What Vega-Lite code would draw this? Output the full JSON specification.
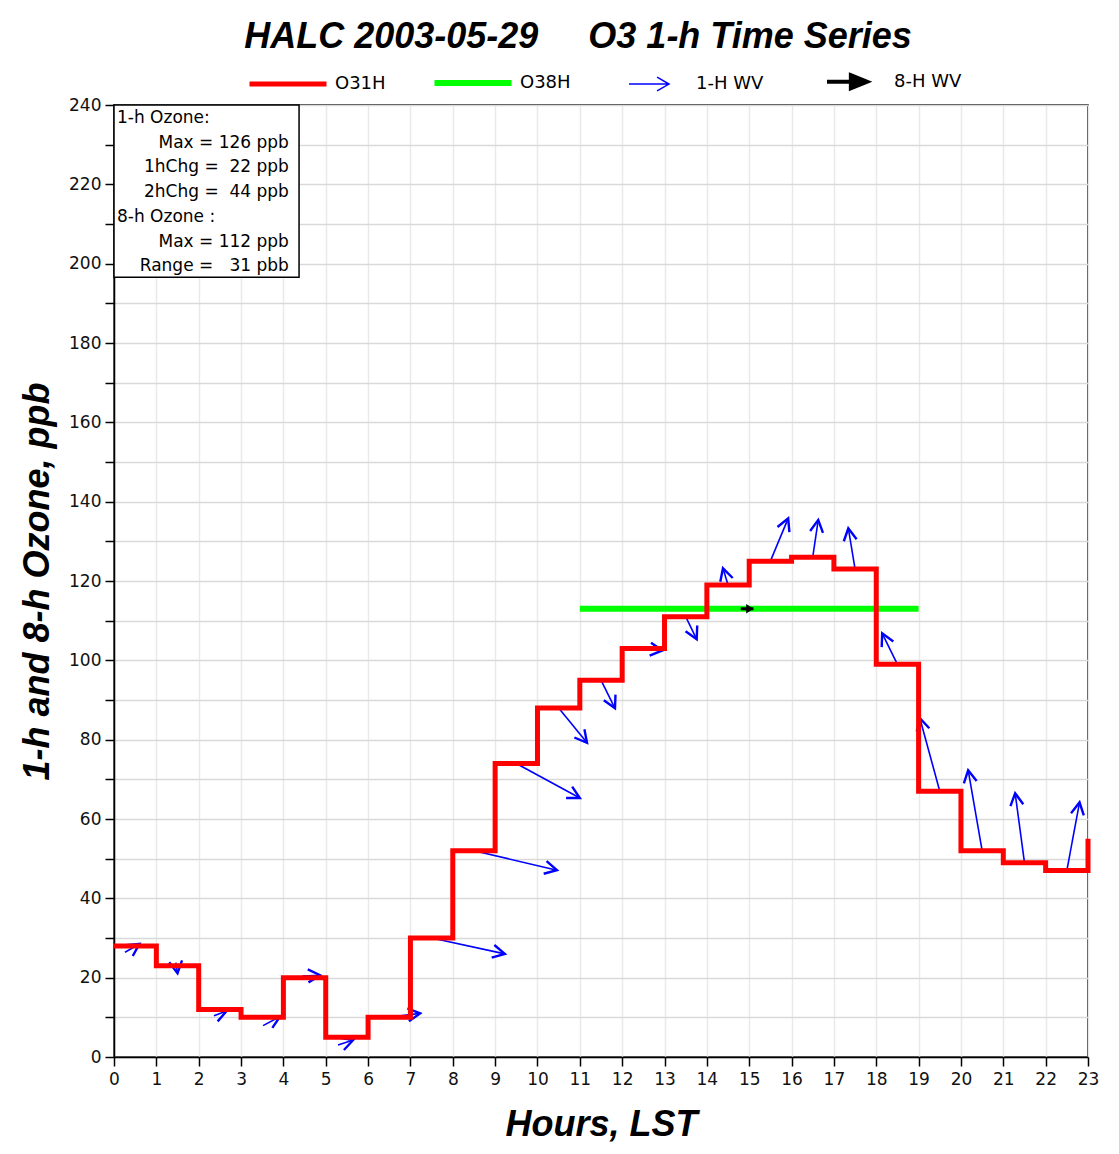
{
  "$schema": "https://vega.github.io/schema/vega-lite/v6.json",
  "width": 974,
  "height": 952,
  "autosize": "none",
  "padding": {"left": 114, "top": 105, "right": 31, "bottom": 97},
  "background": "white",
  "title": {
    "text": "HALC 2003-05-29\u00a0\u00a0\u00a0\u00a0\u00a0O3 1-h Time Series",
    "font": "Liberation Sans",
    "fontSize": 36,
    "fontStyle": "italic",
    "fontWeight": "bold",
    "color": "black",
    "anchor": "middle",
    "dx": -23,
    "offset": 17
  },
  "config": {
    "view": {"stroke": "black", "strokeWidth": 1.5},
    "axis": {
      "domainColor": "black",
      "domainWidth": 1.5,
      "tickColor": "black",
      "tickWidth": 1.5,
      "tickSize": 9,
      "labelFont": "DejaVu Sans",
      "labelFontSize": 17,
      "labelColor": "#111",
      "labelOverlap": false,
      "labelFlush": false,
      "titleFont": "Liberation Sans",
      "titleFontSize": 36,
      "titleFontWeight": "bold",
      "titleFontStyle": "italic",
      "titleColor": "black",
      "gridWidth": 1.5
    }
  },
  "datasets": {
    "o3": [
      {"hour": 0, "ppb": 28, "series": "O31H"},
      {"hour": 1, "ppb": 23, "series": "O31H"},
      {"hour": 2, "ppb": 12, "series": "O31H"},
      {"hour": 3, "ppb": 10, "series": "O31H"},
      {"hour": 4, "ppb": 20, "series": "O31H"},
      {"hour": 5, "ppb": 5, "series": "O31H"},
      {"hour": 6, "ppb": 10, "series": "O31H"},
      {"hour": 7, "ppb": 30, "series": "O31H"},
      {"hour": 8, "ppb": 52, "series": "O31H"},
      {"hour": 9, "ppb": 74, "series": "O31H"},
      {"hour": 10, "ppb": 88, "series": "O31H"},
      {"hour": 11, "ppb": 95, "series": "O31H"},
      {"hour": 12, "ppb": 103, "series": "O31H"},
      {"hour": 13, "ppb": 111, "series": "O31H"},
      {"hour": 14, "ppb": 119, "series": "O31H"},
      {"hour": 15, "ppb": 125, "series": "O31H"},
      {"hour": 16, "ppb": 126, "series": "O31H"},
      {"hour": 17, "ppb": 123, "series": "O31H"},
      {"hour": 18, "ppb": 99, "series": "O31H"},
      {"hour": 19, "ppb": 67, "series": "O31H"},
      {"hour": 20, "ppb": 52, "series": "O31H"},
      {"hour": 21, "ppb": 49, "series": "O31H"},
      {"hour": 22, "ppb": 47, "series": "O31H"},
      {"hour": 23, "ppb": 55, "series": "O31H"}
    ],
    "o8": [
      {"hour": 11, "ppb": 113, "series": "O38H"},
      {"hour": 19, "ppb": 113, "series": "O38H"}
    ],
    "wind1h": [
      {"hour": 0.26, "ppb": 26.4, "hour2": 0.60, "ppb2": 28.5, "dir": 57},
      {"hour": 1.46, "ppb": 23.8, "hour2": 1.50, "ppb2": 21.1, "dir": 171},
      {"hour": 2.36, "ppb": 10.4, "hour2": 2.66, "ppb2": 11.6, "dir": 69},
      {"hour": 3.52, "ppb": 7.9, "hour2": 3.92, "ppb2": 10.2, "dir": 62},
      {"hour": 4.45, "ppb": 20.4, "hour2": 4.87, "ppb2": 20.6, "dir": 87},
      {"hour": 5.29, "ppb": 3.0, "hour2": 5.65, "ppb2": 4.3, "dir": 71},
      {"hour": 6.5, "ppb": 10.0, "hour2": 7.23, "ppb2": 11.0, "dir": 83},
      {"hour": 7.5, "ppb": 30.0, "hour2": 9.23, "ppb2": 26.0, "dir": 102},
      {"hour": 8.5, "ppb": 52.0, "hour2": 10.46, "ppb2": 47.1, "dir": 103},
      {"hour": 9.5, "ppb": 74.0, "hour2": 11.0, "ppb2": 65.3, "dir": 118},
      {"hour": 10.5, "ppb": 88.0, "hour2": 11.17, "ppb2": 79.2, "dir": 141},
      {"hour": 11.5, "ppb": 95.0, "hour2": 11.83, "ppb2": 87.9, "dir": 154},
      {"hour": 12.5, "ppb": 103.0, "hour2": 12.95, "ppb2": 102.5, "dir": 96},
      {"hour": 13.5, "ppb": 111.0, "hour2": 13.76, "ppb2": 105.3, "dir": 154},
      {"hour": 14.5, "ppb": 119.0, "hour2": 14.38, "ppb2": 123.2, "dir": 343},
      {"hour": 15.5, "ppb": 125.0, "hour2": 15.92, "ppb2": 135.8, "dir": 23},
      {"hour": 16.5, "ppb": 126.0, "hour2": 16.63, "ppb2": 135.4, "dir": 8},
      {"hour": 17.5, "ppb": 123.0, "hour2": 17.34, "ppb2": 133.3, "dir": 351},
      {"hour": 18.5, "ppb": 99.0, "hour2": 18.14, "ppb2": 106.8, "dir": 334},
      {"hour": 19.5, "ppb": 67.0, "hour2": 19.03, "ppb2": 85.4, "dir": 345},
      {"hour": 20.5, "ppb": 52.0, "hour2": 20.17, "ppb2": 72.3, "dir": 350},
      {"hour": 21.5, "ppb": 49.0, "hour2": 21.28, "ppb2": 66.5, "dir": 352},
      {"hour": 22.5, "ppb": 47.0, "hour2": 22.80, "ppb2": 64.2, "dir": 10}
    ],
    "wind8h": [
      {"hour": 14.8, "ppb": 113.0, "hour2": 15.1, "ppb2": 113.0, "dir": 90}
    ],
    "box": [
      {"hour": 0, "ppb": 196.6, "hour2": 4.37, "ppb2": 240}
    ],
    "infoHead": [
      {"hour": 0.07, "ppb": 236.7, "text": "1-h Ozone:"},
      {"hour": 0.07, "ppb": 211.7, "text": "8-h Ozone :"}
    ],
    "infoVal": [
      {"hour": 4.13, "ppb": 230.4, "text": "Max = 126 ppb"},
      {"hour": 4.13, "ppb": 224.3, "text": "1hChg =\u00a0\u00a022 ppb"},
      {"hour": 4.13, "ppb": 218.0, "text": "2hChg =\u00a0\u00a044 ppb"},
      {"hour": 4.13, "ppb": 205.4, "text": "Max = 112 ppb"},
      {"hour": 4.13, "ppb": 199.4, "text": "Range =\u00a0\u00a0\u00a031 pbb"}
    ]
  },
  "encoding": {
    "x": {
      "field": "hour",
      "type": "quantitative",
      "scale": {"domain": [0, 23], "nice": false, "zero": false},
      "axis": {
        "title": "Hours, LST",
        "values": [0,1,2,3,4,5,6,7,8,9,10,11,12,13,14,15,16,17,18,19,20,21,22,23],
        "gridColor": "#e9e9e9",
        "labelPadding": 5,
        "titlePadding": 20
      }
    },
    "y": {
      "field": "ppb",
      "type": "quantitative",
      "scale": {"domain": [0, 240], "nice": false, "zero": false},
      "axis": {
        "title": "1-h and 8-h Ozone, ppb",
        "values": [0,10,20,30,40,50,60,70,80,90,100,110,120,130,140,150,160,170,180,190,200,210,220,230,240],
        "labelExpr": "datum.value % 20 === 0 ? datum.label : ''",
        "gridColor": "#d9d9d9",
        "labelPadding": 4,
        "titlePadding": 12
      }
    }
  },
  "layer": [
    {
      "data": {"name": "o8"},
      "mark": {"type": "line", "strokeWidth": 6},
      "encoding": {
        "color": {
          "field": "series",
          "type": "nominal",
          "scale": {"domain": ["O31H", "O38H", "1-H WV", "8-H WV"], "range": ["#ff0000", "#00ff00", "#0000ff", "#000000"]},
          "legend": {
            "orient": "none",
            "legendX": 136,
            "legendY": -32.5,
            "direction": "horizontal",
            "columns": 4,
            "title": null,
            "padding": 0,
            "symbolSize": 5929,
            "symbolType": "stroke",
            "symbolOffset": 29,
            "labelFont": "DejaVu Sans",
            "labelFontSize": 18,
            "labelColor": "black",
            "labelOffset": 38,
            "columnPadding": 36,
            "encode": {
              "symbols": {
                "update": {
                  "shape": {"signal": "datum.value === '1-H WV' ? 'M-1,0M-0.52,0L0.52,0M0.21,-0.18L0.52,0L0.21,0.18' : datum.value === '8-H WV' ? 'M-1,0M-0.52,0L0.1,0M0.1,-0.17L0.52,0L0.1,0.17Z' : 'stroke'"},
                  "strokeWidth": {"signal": "datum.value === '1-H WV' ? 1.5 : datum.value === '8-H WV' ? 4 : datum.value === 'O38H' ? 6 : 5"},
                  "fill": {"signal": "datum.value === '8-H WV' ? 'black' : 'transparent'"},
                  "opacity": {"value": 1}
                }
              }
            }
          }
        }
      }
    },
    {
      "data": {"name": "wind1h"},
      "mark": {"type": "rule", "color": "#0000ff", "strokeWidth": 1.6},
      "encoding": {
        "x2": {"field": "hour2"},
        "y2": {"field": "ppb2"}
      }
    },
    {
      "data": {"name": "wind1h"},
      "mark": {"type": "point", "shape": "M-0.47,0.88L0,0L0.47,0.88", "filled": false, "stroke": "#0000ff", "strokeWidth": 2.4, "size": 760, "opacity": 1},
      "encoding": {
        "x": {"field": "hour2", "type": "quantitative"},
        "y": {"field": "ppb2", "type": "quantitative"},
        "angle": {"field": "dir", "type": "quantitative", "scale": null}
      }
    },
    {
      "data": {"name": "o3"},
      "mark": {"type": "line", "strokeWidth": 5, "interpolate": "step-after"},
      "encoding": {
        "color": {"field": "series", "type": "nominal"}
      }
    },
    {
      "data": {"name": "wind8h"},
      "mark": {"type": "rule", "color": "black", "strokeWidth": 3},
      "encoding": {
        "x2": {"field": "hour2"},
        "y2": {"field": "ppb2"}
      }
    },
    {
      "data": {"name": "wind8h"},
      "mark": {"type": "point", "shape": "M-0.6,0.9L0,0L0.6,0.9Z", "filled": true, "color": "black", "strokeWidth": 2, "size": 260, "opacity": 1},
      "encoding": {
        "x": {"field": "hour2", "type": "quantitative"},
        "y": {"field": "ppb2", "type": "quantitative"},
        "angle": {"field": "dir", "type": "quantitative", "scale": null}
      }
    },
    {
      "data": {"name": "box"},
      "mark": {"type": "rect", "fill": "white", "stroke": "black", "strokeWidth": 1.5},
      "encoding": {
        "x2": {"field": "hour2"},
        "y2": {"field": "ppb2"}
      }
    },
    {
      "data": {"name": "infoHead"},
      "mark": {"type": "text", "align": "left", "baseline": "middle", "font": "DejaVu Sans", "fontSize": 17, "color": "black"},
      "encoding": {
        "text": {"field": "text", "type": "nominal"}
      }
    },
    {
      "data": {"name": "infoVal"},
      "mark": {"type": "text", "align": "right", "baseline": "middle", "font": "DejaVu Sans", "fontSize": 17, "color": "black"},
      "encoding": {
        "text": {"field": "text", "type": "nominal"}
      }
    }
  ]
}
